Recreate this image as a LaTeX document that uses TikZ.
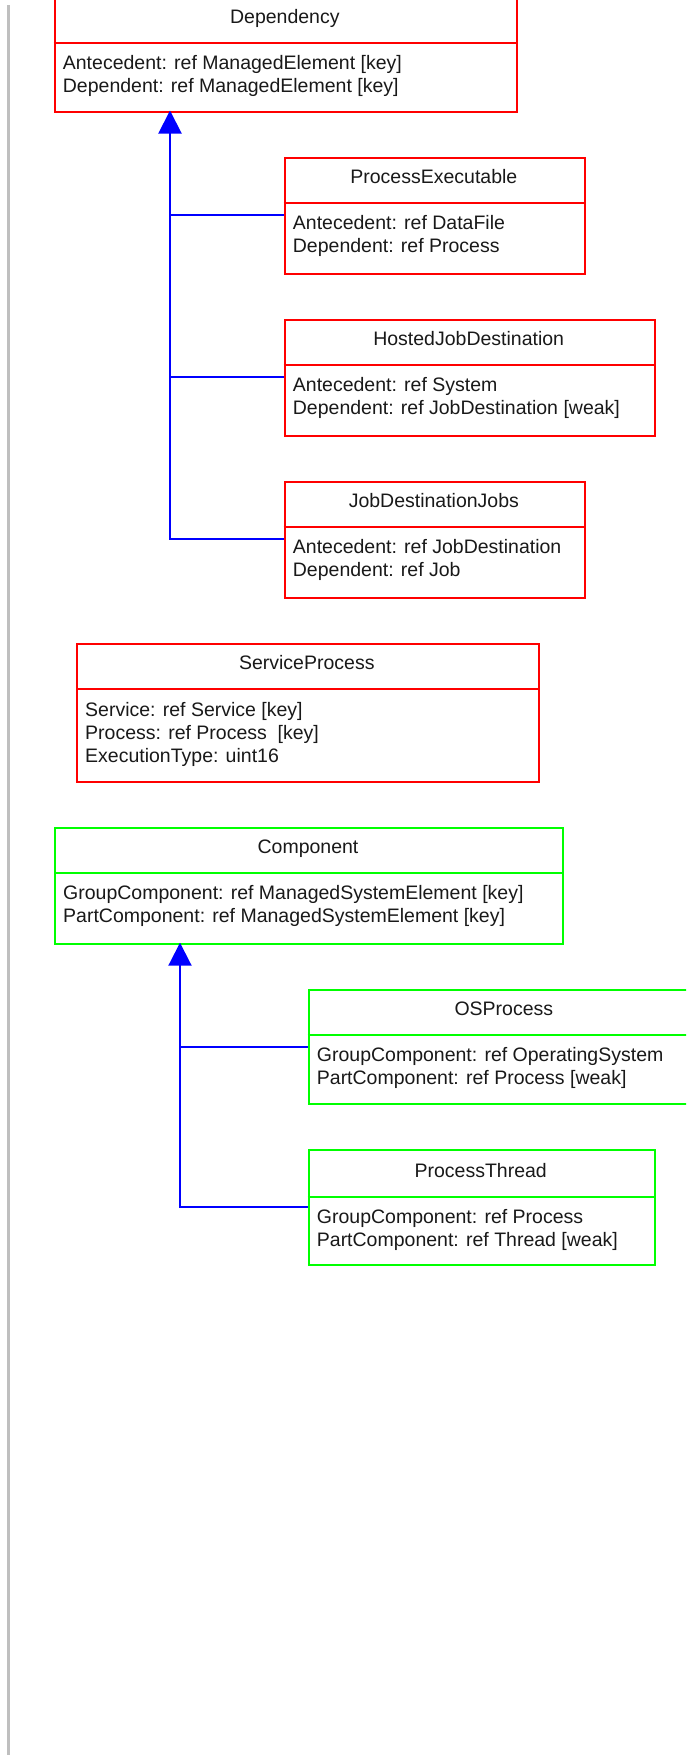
\documentclass[tikz,border=0pt]{standalone}
\usepackage{fontspec}
\setmainfont{Liberation Sans}
\usetikzlibrary{arrows.meta}
\newcommand\clsfont{\fontsize{19.5}{23.3}\selectfont}
\begin{document}
\begin{tikzpicture}[x=1pt,y=-1pt,
  cls/.style={draw=#1, line width=2pt, inner sep=0pt, anchor=north west},
  sep/.style={draw=#1, line width=2pt},
  hdr/.style={anchor=base, inner sep=0pt, font=\clsfont, text=black!90},
  attr/.style={anchor=base west, inner sep=0pt, font=\clsfont, text=black!90},
  gen/.style={draw=blue, line width=2pt},
  genarrow/.style={gen, -{Triangle[length=23pt,width=23pt]}}]
\clip (0,0) rectangle (686,1759);
\fill[white] (0,0) rectangle (686,1759);
% left gray bar
\fill[gray!50] (7,5) rectangle (10,1755);

% ---------- Dependency ----------
\node[cls=red, minimum width=462.3pt, minimum height=113.5pt] (dep) at (53.7,-3) {};
\draw[sep=red] (53.7,43) -- (516,43);
\node[hdr] (dep-h) at (284.85,23) {Dependency};
\node[attr] (dep-a1) at (62.7,69.5) {Antecedent: ref ManagedElement [key]};
\node[attr] (dep-a2) at (62.7,92.8) {Dependent: ref ManagedElement [key]};

% ---------- ProcessExecutable ----------
\node[cls=red, minimum width=300.3pt, minimum height=115.4pt] (pe) at (283.7,157.3) {};
\draw[sep=red] (283.7,203) -- (584,203);
\node[hdr] (pe-h) at (433.85,183) {ProcessExecutable};
\node[attr] (pe-a1) at (292.7,229.5) {Antecedent: ref DataFile};
\node[attr] (pe-a2) at (292.7,252.8) {Dependent: ref Process};

% ---------- HostedJobDestination ----------
\node[cls=red, minimum width=370pt, minimum height=115.7pt] (hjd) at (283.7,319) {};
\draw[sep=red] (283.7,365) -- (653.7,365);
\node[hdr] (hjd-h) at (468.7,345) {HostedJobDestination};
\node[attr] (hjd-a1) at (292.7,391.5) {Antecedent: ref System};
\node[attr] (hjd-a2) at (292.7,414.8) {Dependent: ref JobDestination [weak]};

% ---------- JobDestinationJobs ----------
\node[cls=red, minimum width=300.3pt, minimum height=116pt] (jdj) at (283.7,481) {};
\draw[sep=red] (283.7,527) -- (584,527);
\node[hdr] (jdj-h) at (433.85,507) {JobDestinationJobs};
\node[attr] (jdj-a1) at (292.7,553.5) {Antecedent: ref JobDestination};
\node[attr] (jdj-a2) at (292.7,576.8) {Dependent: ref Job};

% generalisation to Dependency
\coordinate (depstem) at (170,110.5);
\path (pe.north west) ++(0,57.7) coordinate (pe-in);
\path (hjd.north west) ++(0,57.6) coordinate (hjd-in);
\path (jdj.north west) ++(0,58) coordinate (jdj-in);
\draw[gen] (pe-in) -- (pe-in -| depstem);
\draw[gen] (hjd-in) -- (hjd-in -| depstem);
\draw[genarrow] (jdj-in) -| (depstem);

% ---------- ServiceProcess ----------
\node[cls=red, minimum width=461.6pt, minimum height=137.4pt] (sp) at (76,643.3) {};
\draw[sep=red] (76,689.3) -- (537.6,689.3);
\node[hdr] (sp-h) at (306.8,669.3) {ServiceProcess};
\node[attr] (sp-a1) at (85,716) {Service: ref Service [key]};
\node[attr] (sp-a2) at (85,739.3) {Process: ref Process~ [key]};
\node[attr] (sp-a3) at (85,762.6) {ExecutionType: uint16};

% ---------- Component ----------
\node[cls=green, minimum width=508pt, minimum height=115.4pt] (comp) at (54,827.3) {};
\draw[sep=green] (54,873.3) -- (562,873.3);
\node[hdr] (comp-h) at (308,853.3) {Component};
\node[attr] (comp-a1) at (63,899.5) {GroupComponent: ref ManagedSystemElement [key]};
\node[attr] (comp-a2) at (63,922.5) {PartComponent: ref ManagedSystemElement [key]};

% ---------- OSProcess ----------
\node[cls=green, minimum width=392.3pt, minimum height=113.4pt] (osp) at (307.7,989.3) {};
\draw[sep=green] (307.7,1035) -- (700,1035);
\node[hdr] (osp-h) at (503.85,1015) {OSProcess};
\node[attr] (osp-a1) at (316.7,1061.5) {GroupComponent: ref OperatingSystem};
\node[attr] (osp-a2) at (316.7,1084.8) {PartComponent: ref Process [weak]};

% ---------- ProcessThread ----------
\node[cls=green, minimum width=346pt, minimum height=115pt] (pt) at (307.7,1149.3) {};
\draw[sep=green] (307.7,1197) -- (653.7,1197);
\node[hdr] (pt-h) at (480.7,1177) {ProcessThread};
\node[attr] (pt-a1) at (316.7,1223.5) {GroupComponent: ref Process};
\node[attr] (pt-a2) at (316.7,1246.8) {PartComponent: ref Thread [weak]};

% generalisation to Component
\coordinate (compstem) at (180,942.7);
\path (osp.north west) ++(0,57.7) coordinate (osp-in);
\path (pt.north west) ++(0,57.4) coordinate (pt-in);
\draw[gen] (osp-in) -- (osp-in -| compstem);
\draw[genarrow] (pt-in) -| (compstem);
\end{tikzpicture}
\end{document}
